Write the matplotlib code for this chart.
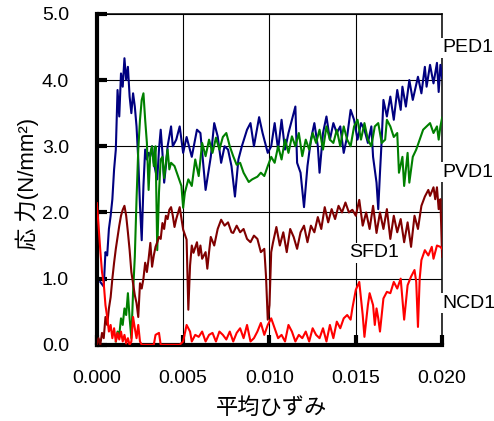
import matplotlib
matplotlib.use("Agg")
import matplotlib.pyplot as plt

plt.rcParams['font.family'] = ['Liberation Sans', 'Noto Sans CJK JP', 'DejaVu Sans']

# strain / stress pairs
ped1_x = [0.0002, 0.0004, 0.0005, 0.0006, 0.0007, 0.0008, 0.0009, 0.0010, 0.0011, 0.0012,
          0.0013, 0.0014, 0.0015, 0.0016, 0.0017, 0.0018, 0.0019, 0.0020, 0.0021, 0.0022,
          0.0023, 0.0024, 0.0025, 0.0026, 0.0027, 0.0028, 0.0029, 0.0030, 0.0031, 0.0032,
          0.0033, 0.0035, 0.0036, 0.0037, 0.0038, 0.0039, 0.0040, 0.0041, 0.0043, 0.0044,
          0.0046, 0.0048, 0.0050, 0.0052, 0.0055, 0.0058, 0.0060, 0.0063, 0.0066, 0.0068,
          0.0070, 0.0072, 0.0074, 0.0076, 0.0078, 0.0080, 0.0082, 0.0084, 0.0087, 0.0089,
          0.0091, 0.0094, 0.0096, 0.0099, 0.0101, 0.0103, 0.0105, 0.0107, 0.0109, 0.0111,
          0.0113, 0.0115, 0.0116, 0.0118, 0.0120, 0.0122, 0.0124, 0.0126, 0.0128, 0.0129,
          0.0131, 0.0133, 0.0135, 0.0137, 0.0139, 0.0141, 0.0143, 0.0145, 0.0147, 0.0149,
          0.0151, 0.0153, 0.0155, 0.0157, 0.0159, 0.0160, 0.0162, 0.0163, 0.0164, 0.0165,
          0.0166, 0.0168, 0.0170, 0.0172, 0.0174, 0.0176, 0.0177, 0.0179, 0.0181, 0.0183,
          0.0186, 0.0188, 0.0190, 0.0191, 0.0193, 0.0195, 0.0197, 0.0198, 0.0199, 0.0200]
ped1_y = [0.95, 0.88, 1.40, 1.35, 1.75, 1.95, 2.20, 2.65, 2.95, 3.85,
          3.45, 4.10, 3.90, 4.33, 4.00, 4.20, 3.75, 3.50, 3.80, 3.60,
          3.30, 2.80, 2.10, 1.58, 2.40, 2.95, 2.80, 2.90, 2.85, 3.00,
          2.75, 2.50, 2.95, 3.25, 2.90, 2.45, 2.70, 3.00, 3.30, 3.00,
          3.10, 3.30, 2.90, 3.14, 2.84, 3.25, 3.20, 2.34, 2.84, 3.35,
          3.15, 2.75, 3.00, 2.95, 2.70, 2.24, 2.80, 3.00, 3.25, 3.35,
          3.00, 3.44, 3.20, 2.90, 3.00, 3.35, 2.95, 3.40, 2.95, 3.20,
          3.40, 3.60, 2.75, 2.60, 2.08, 2.70, 3.10, 3.35, 3.00, 2.60,
          3.20, 3.45, 3.10, 3.35, 3.20, 3.30, 2.90, 3.15, 3.55, 3.40,
          3.10, 3.35, 3.25, 3.05, 3.30, 2.84, 2.45, 2.05, 2.60, 3.10,
          3.70, 3.45, 3.75, 3.40, 3.85, 3.55, 3.90, 3.60, 4.00, 3.70,
          4.05, 3.80, 4.20, 3.90, 4.23, 3.95, 4.26, 3.82, 4.23, 4.03]

pvd1_x = [0.0011, 0.0012, 0.0013, 0.0014, 0.0015, 0.0016, 0.0017, 0.0018, 0.0019, 0.0020,
          0.0021, 0.0022, 0.0023, 0.0024, 0.0025, 0.0026, 0.0027, 0.0028, 0.0029, 0.0030,
          0.0031, 0.0032, 0.0033, 0.0034, 0.0035, 0.0036, 0.0037, 0.0038, 0.0039, 0.0040,
          0.0041, 0.0042, 0.0043, 0.0045, 0.0047, 0.0049, 0.0050, 0.0051, 0.0053, 0.0055,
          0.0057, 0.0059, 0.0061, 0.0063, 0.0065, 0.0067, 0.0069, 0.0071, 0.0073, 0.0075,
          0.0077, 0.0079, 0.0081, 0.0083, 0.0085, 0.0088, 0.0090, 0.0093, 0.0095, 0.0097,
          0.0099, 0.0101, 0.0103, 0.0105, 0.0107, 0.0109, 0.0111, 0.0113, 0.0115, 0.0117,
          0.0119, 0.0121, 0.0123, 0.0125, 0.0127, 0.0129, 0.0131, 0.0133, 0.0135, 0.0137,
          0.0139, 0.0141, 0.0143, 0.0145, 0.0147, 0.0149, 0.0151, 0.0153, 0.0155, 0.0157,
          0.0159, 0.0161, 0.0163, 0.0165, 0.0167, 0.0168, 0.0170, 0.0172, 0.0174, 0.0175,
          0.0177, 0.0178, 0.0180, 0.0181, 0.0183, 0.0185, 0.0187, 0.0189, 0.0191, 0.0193,
          0.0195, 0.0197, 0.0198, 0.0199, 0.0200]
pvd1_y = [0.05, 0.20, 0.15, 0.40, 0.30, 0.55, 0.45, 0.78, 0.40, 0.10,
          0.80, 1.33, 2.20, 2.95, 3.40, 3.70, 3.80, 3.40, 3.05, 2.34,
          2.90, 3.00, 2.70, 3.00, 1.43, 2.30, 2.80, 2.84, 2.52, 2.75,
          2.95, 2.65, 2.75, 2.70, 2.55, 2.40, 2.07, 2.30, 2.50, 2.40,
          2.80, 2.55, 3.05, 2.85, 3.10, 2.90, 3.13, 2.95, 3.14, 3.20,
          3.00, 2.85, 2.72, 2.75, 2.60, 2.46, 2.50, 2.54, 2.60, 2.55,
          2.70, 2.84, 2.75, 3.00, 2.80, 3.10, 2.90, 3.15, 3.00, 3.20,
          2.85, 3.10, 2.95, 3.20, 3.05, 3.25, 2.95, 3.30, 3.10, 3.05,
          3.25, 3.00, 3.30, 3.10, 3.00, 3.30, 3.40, 3.10, 3.35, 3.10,
          3.00, 3.30, 3.35, 3.05, 3.10, 3.40, 3.30, 3.14, 3.20, 2.60,
          2.84, 2.40, 2.90, 2.45, 2.84, 2.95, 3.10, 3.25, 3.30, 3.35,
          3.20, 3.30, 3.10, 3.30, 3.43]

sfd1_x = [0.0000, 0.0001, 0.0002, 0.0003, 0.0004, 0.0005, 0.0006, 0.0007, 0.0008, 0.0009,
          0.0010, 0.0011, 0.0012, 0.0013, 0.0014, 0.0015, 0.0016, 0.0017, 0.0018, 0.0019,
          0.0020, 0.0021, 0.0022, 0.0023, 0.0024, 0.0025, 0.0026, 0.0027, 0.0028, 0.0029,
          0.0030, 0.0031, 0.0032, 0.0033, 0.0034, 0.0035, 0.0036, 0.0037, 0.0038, 0.0039,
          0.0040, 0.0041, 0.0042, 0.0043, 0.0044, 0.0045, 0.0046, 0.0048, 0.0050, 0.0052,
          0.0053, 0.0054, 0.0055, 0.0056, 0.0058, 0.0059, 0.0060, 0.0061, 0.0063, 0.0064,
          0.0065, 0.0066, 0.0068, 0.0070, 0.0072, 0.0074, 0.0076, 0.0078, 0.0079, 0.0081,
          0.0083, 0.0085, 0.0087, 0.0089, 0.0091, 0.0093, 0.0095, 0.0097, 0.0098, 0.0099,
          0.0100, 0.0101, 0.0102, 0.0104, 0.0106, 0.0108, 0.0110, 0.0112, 0.0114, 0.0116,
          0.0118, 0.0120, 0.0122, 0.0124, 0.0126, 0.0128, 0.0130, 0.0132, 0.0134, 0.0136,
          0.0138, 0.0140, 0.0142, 0.0144, 0.0146, 0.0148, 0.0150, 0.0152, 0.0154, 0.0156,
          0.0158, 0.0160, 0.0162, 0.0164, 0.0166, 0.0168, 0.0170, 0.0172, 0.0174, 0.0176,
          0.0178, 0.0180, 0.0182, 0.0184, 0.0186, 0.0188, 0.0190, 0.0192, 0.0193, 0.0195,
          0.0196, 0.0197, 0.0198, 0.0199, 0.0200]
sfd1_y = [0.00, 0.10, 0.00, 0.18, 0.10, 0.42, 0.30, 0.55, 0.72, 1.00,
          1.24, 1.45, 1.63, 1.80, 1.95, 2.04, 2.10, 1.95, 1.70, 1.43,
          1.10, 0.93, 0.75, 0.63, 0.42, 0.93, 0.85, 1.00, 1.24, 1.10,
          1.30, 1.54, 1.18, 1.35, 1.48, 1.55, 1.63, 1.60, 1.84, 1.75,
          1.95, 1.90, 2.04, 2.08, 1.95, 1.78, 1.90, 2.08, 1.74, 1.59,
          0.53, 1.20, 1.50, 1.39, 1.55, 1.35, 1.50, 1.30, 1.40, 1.15,
          1.40, 1.63, 1.50, 1.75, 1.89, 1.80, 1.85, 1.70, 1.69, 1.80,
          1.70, 1.75, 1.60, 1.55, 1.65, 1.60, 1.40, 1.45, 1.03, 0.38,
          0.60, 1.40, 1.54, 1.78, 1.50, 1.70, 1.40, 1.75, 1.63, 1.45,
          1.70, 1.80, 1.55, 1.80, 1.70, 1.93, 1.75, 2.08, 1.85, 2.05,
          1.90, 2.10, 2.00, 2.15, 2.00, 2.04, 1.95, 2.19, 1.80, 2.00,
          1.75, 2.10, 1.69, 2.00, 1.75, 2.05, 1.60, 1.95, 1.70, 1.90,
          1.55, 1.85, 1.48, 1.95, 1.75, 2.10, 2.24, 2.34, 2.25, 2.38,
          2.20, 2.38, 2.05, 2.20, 1.33]

ncd1_x = [0.0000, 0.0001, 0.0002, 0.0003, 0.0004, 0.0005, 0.0006, 0.0007, 0.0008, 0.0009,
          0.0010, 0.0011, 0.0012, 0.0013, 0.0014, 0.0015, 0.0016, 0.0017, 0.0018, 0.0019,
          0.0020, 0.0021, 0.0022, 0.0023, 0.0024, 0.0025, 0.0026, 0.0030, 0.0033, 0.0034,
          0.0036, 0.0037, 0.0048, 0.0050, 0.0052, 0.0054, 0.0055, 0.0057, 0.0059, 0.0061,
          0.0063, 0.0065, 0.0067, 0.0069, 0.0071, 0.0073, 0.0075, 0.0077, 0.0079, 0.0081,
          0.0083, 0.0085, 0.0087, 0.0089, 0.0091, 0.0093, 0.0095, 0.0097, 0.0099, 0.0101,
          0.0103, 0.0105, 0.0107, 0.0109, 0.0111, 0.0113, 0.0115, 0.0117, 0.0119, 0.0121,
          0.0123, 0.0125, 0.0127, 0.0129, 0.0131, 0.0133, 0.0135, 0.0137, 0.0139, 0.0141,
          0.0143, 0.0145, 0.0147, 0.0148, 0.0150, 0.0152, 0.0153, 0.0154, 0.0155, 0.0157,
          0.0158, 0.0160, 0.0161, 0.0162, 0.0163, 0.0164, 0.0166, 0.0168, 0.0170, 0.0172,
          0.0174, 0.0176, 0.0178, 0.0180, 0.0182, 0.0184, 0.0185, 0.0186, 0.0187, 0.0188,
          0.0190, 0.0192, 0.0194, 0.0195, 0.0197, 0.0199, 0.0200]
ncd1_y = [2.14, 1.80, 1.43, 1.10, 0.93, 0.60, 0.42, 0.20, 0.30, 0.10,
          0.25, 0.05, 0.18, 0.08, 0.20, 0.05, 0.15, 0.02, 0.10, 0.00,
          0.05, 0.42, 0.25, 0.10, 0.30, 0.05, 0.00, 0.00, 0.00, 0.15,
          0.18, 0.00, 0.00, 0.05, 0.30, 0.20, 0.05, 0.15, 0.12, 0.20,
          0.05, 0.15, 0.18, 0.05, 0.20, 0.15, 0.08, 0.20, 0.05, 0.18,
          0.25, 0.10, 0.30, 0.05, 0.10, 0.20, 0.33, 0.15, 0.30, 0.40,
          0.25, 0.10, 0.15, 0.05, 0.30, 0.20, 0.05, 0.15, 0.10, 0.20,
          0.05, 0.25, 0.15, 0.10, 0.25, 0.05, 0.30, 0.10, 0.35, 0.25,
          0.40, 0.45, 0.38, 0.55, 0.83, 0.95, 0.70, 0.45, 0.12, 0.60,
          0.78, 0.60, 0.30, 0.55, 0.40, 0.20, 0.70, 0.80, 0.78, 0.95,
          0.85, 1.00, 0.38, 0.90, 1.03, 1.13, 0.95, 0.27, 1.00, 1.28,
          1.43, 1.35, 1.48, 1.30, 1.50, 1.48, 1.45]

series = [
    (ped1_x, ped1_y, '#000080'),
    (pvd1_x, pvd1_y, '#008000'),
    (sfd1_x, sfd1_y, '#800000'),
    (ncd1_x, ncd1_y, '#FF0000'),
]

fig = plt.figure(figsize=(4.94, 4.21), dpi=100)
ax = fig.add_axes([0.196, 0.181, 0.699, 0.786])

for xs, ys, col in series:
    ax.plot(xs, ys, color=col, lw=1.5, zorder=3)

ax.set_xlim(0, 0.020)
ax.set_ylim(0, 5.0)
ax.set_xticks([0.000, 0.005, 0.010, 0.015, 0.020])
ax.set_xticklabels(['0.000', '0.005', '0.010', '0.015', '0.020'])
ax.set_yticks([0, 1, 2, 3, 4, 5])
ax.set_yticklabels(['0.0', '1.0', '2.0', '3.0', '4.0', '5.0'])
ax.grid(True, color='black', lw=0.8)
ax.set_axisbelow(True)

ax.tick_params(axis='both', direction='in', labelsize=14, length=7, width=3)
ax.tick_params(axis='y', pad=20)
ax.tick_params(axis='x', pad=18)
for s in ['left', 'bottom']:
    ax.spines[s].set_linewidth(3)
for s in ['top', 'right']:
    ax.spines[s].set_linewidth(1.1)

ax.set_xlabel('平均ひずみ', fontsize=16)
ax.xaxis.set_label_coords(0.505, -0.16)
ax.set_ylabel('応 力(N/mm²)', fontsize=16)
ax.yaxis.set_label_coords(-0.168, 0.485)

lbl = dict(fontsize=14, ha='left', va='center', zorder=5,
           bbox=dict(facecolor='white', edgecolor='none', pad=1))
ax.text(0.0200, 4.49, 'PED1', clip_on=False, **lbl)
ax.text(0.0200, 2.61, 'PVD1', clip_on=False, **lbl)
ax.text(0.0146, 1.39, 'SFD1', clip_on=False, **lbl)
ax.text(0.0200, 0.63, 'NCD1', clip_on=False, **lbl)

fig.savefig('out.png', dpi=100)
